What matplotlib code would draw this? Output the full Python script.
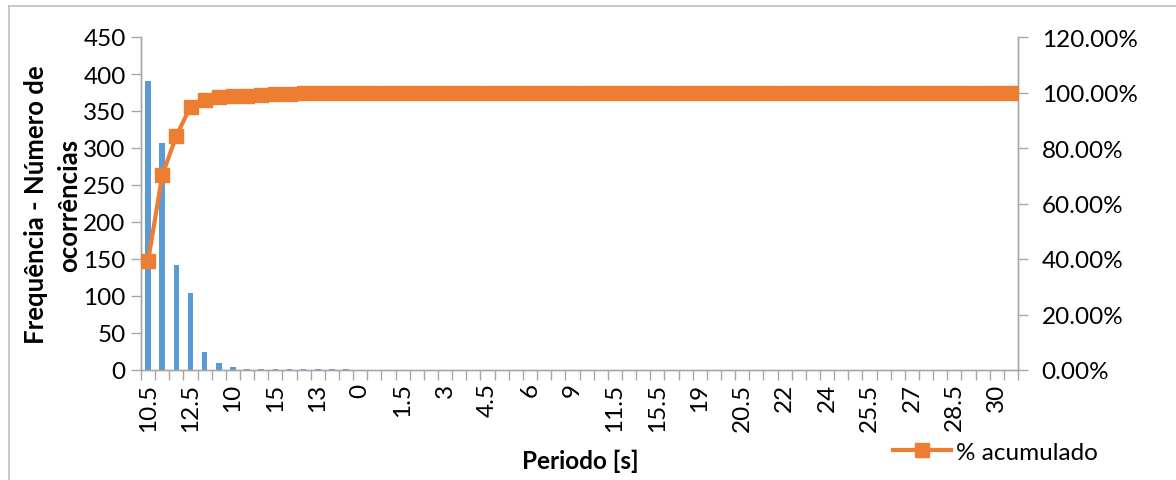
import matplotlib
matplotlib.use("Agg")
import matplotlib.pyplot as plt
from matplotlib.lines import Line2D
from matplotlib.ticker import FuncFormatter, FixedLocator, NullFormatter

# Period classes sorted Pareto-style (non-empty classes by frequency, then the rest)
periods = ["10.5", "12", "14", "12.5", "16", "7.5", "10", "8", "7", "15",
           "16.5", "17", "13", "17.5", "23",
           "0", "0.5", "1", "1.5", "2", "2.5", "3", "3.5", "4", "4.5",
           "5", "5.5", "6", "6.5", "8.5", "9", "9.5", "11", "11.5", "13.5",
           "14.5", "15.5", "18", "18.5", "19", "19.5", "20", "20.5", "21",
           "21.5", "22", "22.5", "23.5", "24", "24.5", "25", "25.5", "26",
           "26.5", "27", "27.5", "28", "28.5", "29", "29.5", "30", "Mais"]
frequency = [390, 307, 142, 104, 24, 10, 4, 2, 2, 2, 2, 2, 1, 1, 1] + [0] * 47

total = sum(frequency)
cumulative = []
running = 0
for f in frequency:
    running += f
    cumulative.append(running / total)

BLUE = "#5B9BD5"
ORANGE = "#ED7D31"
GRAY = "#A6A6A6"
FONT = ["Lato", "DejaVu Sans"]
plt.rcParams["font.family"] = FONT

W, H = 1176, 481
fig = plt.figure(figsize=(W / 100, H / 100), dpi=100)
ax = fig.add_axes([141 / W, 1 - 371 / H, (1018 - 141) / W, (371 - 38) / H])
ax2 = ax.twinx()

x = list(range(len(periods)))
ax.bar(x, frequency, width=0.4, color=BLUE, zorder=2)
line, = ax2.plot(x, cumulative, color=ORANGE, lw=3.0, marker="s", markersize=10.5,
                 markeredgecolor=ORANGE, markerfacecolor=ORANGE, zorder=3,
                 label="% acumulado")

ax.set_xlim(-0.5, len(periods) - 0.5)
ax.set_ylim(0, 450)
ax.set_yticks(range(0, 451, 50))
ax2.set_ylim(0, 1.2)
ax2.set_yticks([0, 0.2, 0.4, 0.6, 0.8, 1.0, 1.2])
ax2.yaxis.set_major_formatter(FuncFormatter(lambda v, p: f"{v * 100:.2f}%"))

# category labels every third class, tick marks on class boundaries
label_pos = x[::3]
ax.xaxis.set_major_locator(FixedLocator(label_pos))
ax.set_xticklabels([periods[i] for i in label_pos], rotation=90)
ax.xaxis.set_minor_locator(FixedLocator([i - 0.5 for i in range(len(periods) + 1)]))
ax.xaxis.set_minor_formatter(NullFormatter())
ax.tick_params(axis="x", which="major", length=0, pad=9, labelsize=17.5)
ax.tick_params(axis="x", which="minor", length=7, width=1, color=GRAY)
ax.tick_params(axis="y", length=7, width=1, color=GRAY, labelsize=17.5, pad=4)
ax2.tick_params(axis="y", length=7, width=1, color=GRAY, labelsize=17.5, pad=10)

for a in (ax, ax2):
    a.spines["top"].set_visible(False)
    for s in ("left", "right", "bottom"):
        a.spines[s].set_color(GRAY)
        a.spines[s].set_linewidth(1)

fig.text(53 / W, 1 - 205 / H, "Frequência - Número de\nocorrências", rotation=90,
         ha="center", va="center", multialignment="center", fontsize=18.5,
         fontweight="bold", linespacing=1.45)
fig.text(580 / W, 1 - 461 / H, "Periodo [s]", ha="center", va="center",
         fontsize=17.5, fontweight="bold")

fig.legend(handles=[line], loc="center left", bbox_to_anchor=(893 / W, 1 - 453 / H),
           frameon=False, fontsize=17.5, handlelength=2.4, handletextpad=0.2,
           borderaxespad=0, borderpad=0)

# outer chart frame
fig.add_artist(Line2D([9 / W, 9 / W], [0, 1 - 7 / H], color="#BFBFBF", lw=1.2,
                      transform=fig.transFigure))
fig.add_artist(Line2D([9 / W, 1], [1 - 7 / H, 1 - 7 / H], color="#BFBFBF", lw=1.2,
                      transform=fig.transFigure))

fig.savefig("out.png", dpi=100)
